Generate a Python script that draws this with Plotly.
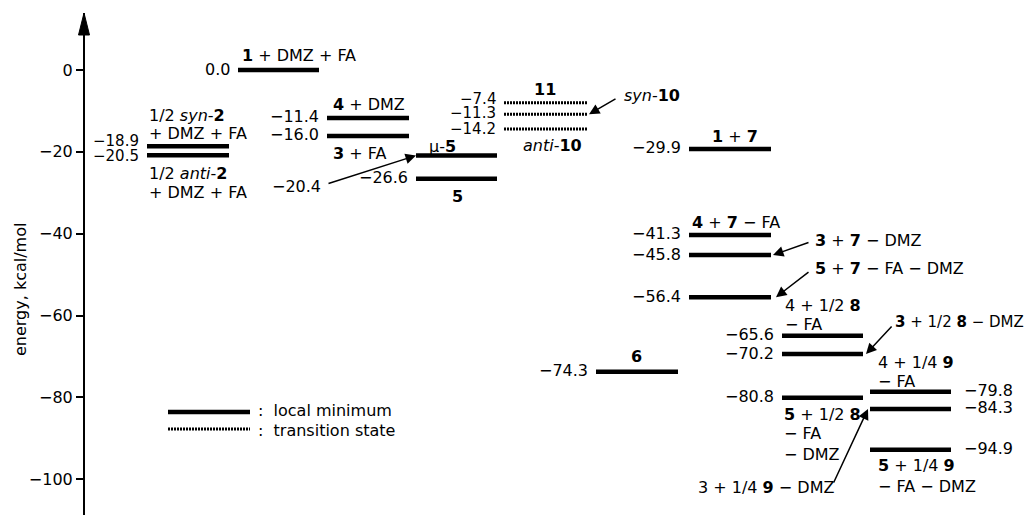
import plotly.graph_objects as go

# ---------------- data ----------------
level_names = ["syn-2", "anti-2", "1 + DMZ + FA", "4 + DMZ", "3 + FA", "mu-5", "5",
               "11", "syn-10", "anti-10",
               "1 + 7", "4 + 7 - FA", "3 + 7 - DMZ", "5 + 7 - FA - DMZ",
               "4 + 1/2 8 - FA", "3 + 1/2 8 - DMZ", "6", "5 + 1/2 8 - FA - DMZ",
               "4 + 1/4 9 - FA", "3 + 1/4 9 - DMZ", "5 + 1/4 9 - FA - DMZ"]
# energies as labelled (kcal/mol)
level_energy = [-18.9, -20.5, 0.0, -11.4, -16.0, -20.4, -26.6,
                -7.4, -11.3, -14.2,
                -29.9, -41.3, -45.8, -56.4,
                -65.6, -70.2, -74.3, -80.8,
                -79.8, -84.3, -94.9]
# heights at which the levels are drawn in the diagram
level_drawn = [-18.6, -20.8, 0.0, -11.7, -16.1, -20.9, -26.6,
               -8.0, -10.8, -14.4,
               -19.3, -40.3, -45.2, -55.5,
               -64.9, -69.4, -73.7, -80.1,
               -78.6, -82.8, -92.8]
level_kind = ["min"] * 7 + ["ts"] * 3 + ["min"] * 11

y_ticks = [0, -20, -40, -60, -80, -100]
y_tick_text = ["0", "−20", "−40", "−60", "−80", "−100"]

# ---------------- layout helpers ----------------
PAGE_W, PAGE_H = 1034, 515
BODY = 8           # default page margin around the figure
W, H = PAGE_W - BODY, PAGE_H - BODY
S = 4.093          # pixels per kcal/mol
Y0PX = 70          # pixel row of energy 0 (page coordinates)
TOP = 13           # arrow tip row (page coordinates)


def ey(py):
    """page pixel row -> energy coordinate"""
    return (Y0PX - py) / S


cols = [(147, 229), (238, 319), (327, 409), (416, 497), (504, 587),
        (596, 678), (689, 771), (782, 863), (870, 951)]
level_col = [0, 0, 1, 2, 2, 3, 3, 4, 4, 4, 6, 6, 6, 6, 7, 7, 5, 7, 8, 8, 8]
value_side = ["L"] * 21
value_side[5] = "arrow"
for i in (18, 19, 20):
    value_side[i] = "R"
# small vertical nudges (px) for crowded value labels
value_nudge = [0] * 21
value_nudge[0], value_nudge[1] = 4, -2
value_nudge[7], value_nudge[8], value_nudge[9] = 3, 0, -1
value_size = [16] * 21
for i in (0, 1, 7, 8, 9):
    value_size[i] = 15

FONT = "DejaVu Sans"
FS = 16
TS_LINE = dict(color="black", width=3, dash="2px,1px")
MIN_LINE = dict(color="black", width=4.5)

fig = go.Figure()

for i, name in enumerate(level_names):
    x0, x1 = cols[level_col[i]]
    line = MIN_LINE if level_kind[i] == "min" else TS_LINE
    fig.add_trace(go.Scatter(x=[x0, x1], y=[level_drawn[i]] * 2, mode="lines",
                             line=line, showlegend=False, hoverinfo="text",
                             text=name))

annotations = []


def fmt(v):
    return f"{v:.1f}".replace("-", "−")


for i, v in enumerate(level_energy):
    x0, x1 = cols[level_col[i]]
    f = dict(size=value_size[i])
    if value_side[i] == "L":
        annotations.append(dict(x=x0 - 6, y=level_drawn[i], text=fmt(v), xanchor="right",
                                yanchor="middle", showarrow=False,
                                yshift=1 + value_nudge[i], font=f))
    elif value_side[i] == "R":
        annotations.append(dict(x=x1 + 11, y=level_drawn[i], text=fmt(v), xanchor="left",
                                yanchor="middle", showarrow=False, yshift=1, font=f))
    else:
        annotations.append(dict(x=323, y=ey(186), text=fmt(v), xanchor="right",
                                yanchor="middle", showarrow=False, font=f))
        annotations.append(dict(x=x0, y=level_drawn[i], ax=327, ay=ey(184),
                                axref="x", ayref="y", text="", showarrow=True,
                                arrowhead=2, arrowsize=1.4, arrowwidth=1.5,
                                arrowcolor="black"))

# (text, x, page row, xanchor, font size)
name_labels = [
    ("1/2 <i>syn</i>-<b>2</b>", 147, 115, "left", FS),
    ("+ DMZ + FA", 147, 133, "left", FS),
    ("1/2 <i>anti</i>-<b>2</b>", 147, 173, "left", FS),
    ("+ DMZ + FA", 147, 192, "left", FS),
    ("<b>1</b> + DMZ + FA", 240, 55, "left", FS),
    ("<b>4</b> + DMZ", 331, 104, "left", FS),
    ("<b>3</b> + FA", 331, 153, "left", FS),
    ("μ-<b>5</b>", 427, 146, "left", FS),
    ("<b>5</b>", 457, 196, "center", FS),
    ("<b>11</b>", 545, 89, "center", FS),
    ("<i>anti</i>-<b>10</b>", 521, 145, "left", FS),
    ("<i>syn</i>-<b>10</b>", 622, 95, "left", FS),
    ("<b>1</b> + <b>7</b>", 710, 136, "left", FS),
    ("<b>4</b> + <b>7</b> − FA", 690, 222, "left", FS),
    ("<b>3</b> + <b>7</b> − DMZ", 813, 240, "left", FS),
    ("<b>5</b> + <b>7</b> − FA − DMZ", 813, 268, "left", FS),
    ("4 + 1/2 <b>8</b>", 783, 305, "left", FS),
    ("− FA", 783, 324, "left", FS),
    ("<b>3</b> + 1/2 <b>8</b> − DMZ", 893, 322, "left", 15),
    ("<b>6</b>", 636, 356, "center", FS),
    ("4 + 1/4 <b>9</b>", 876, 362, "left", FS),
    ("− FA", 876, 381, "left", FS),
    ("<b>5</b> + 1/2 <b>8</b>", 782, 414, "left", FS),
    ("− FA", 782, 433, "left", FS),
    ("− DMZ", 782, 454, "left", FS),
    ("3 + 1/4 <b>9</b> − DMZ", 696, 487, "left", FS),
    ("<b>5</b> + 1/4 <b>9</b>", 876, 465, "left", FS),
    ("− FA − DMZ", 876, 486, "left", FS),
]
for text, x, py, xa, size in name_labels:
    annotations.append(dict(x=x, y=ey(py), text=text, xanchor=xa, yanchor="middle",
                            showarrow=False, font=dict(size=size)))

# pointer arrows: (tail x, tail row, level index, head x)
pointers = [(617, 98, 8, 589), (810, 242, 12, 773), (810, 271, 13, 776),
            (893, 325, 15, 866), (833, 484, 19, 868)]
for tx, ty, li, hx in pointers:
    annotations.append(dict(x=hx, y=level_drawn[li], ax=tx, ay=ey(ty), axref="x", ayref="y",
                            text="", showarrow=True, arrowhead=2, arrowsize=1.4,
                            arrowwidth=1.5, arrowcolor="black"))

# legend
fig.add_trace(go.Scatter(x=[168, 250], y=[ey(412)] * 2, mode="lines",
                         line=MIN_LINE, showlegend=False, hoverinfo="skip"))
fig.add_trace(go.Scatter(x=[168, 250], y=[ey(429)] * 2, mode="lines",
                         line=TS_LINE, showlegend=False, hoverinfo="skip"))
annotations.append(dict(x=256, y=ey(410), text=":  local minimum", xanchor="left",
                        yanchor="middle", showarrow=False))
annotations.append(dict(x=256, y=ey(430), text=":  transition state", xanchor="left",
                        yanchor="middle", showarrow=False))

# axis title
annotations.append(dict(x=20, y=ey(290), text="energy, kcal/mol", textangle=-90,
                        xanchor="center", yanchor="middle", showarrow=False,
                        font=dict(size=16)))

fig.update_layout(
    width=W, height=H,
    margin=dict(l=0, r=0, t=TOP - BODY, b=0, pad=0),
    paper_bgcolor="white", plot_bgcolor="white",
    font=dict(family=FONT, size=FS, color="black"),
    annotations=annotations,
    showlegend=False,
    xaxis=dict(range=[BODY, PAGE_W], visible=False, fixedrange=True),
    yaxis=dict(range=[ey(PAGE_H), ey(TOP)], anchor="free", position=(84 - BODY) / W,
               side="left",
               showline=True, linecolor="black", linewidth=2,
               ticks="outside", ticklen=7, tickwidth=2, tickcolor="black",
               tickvals=y_ticks, ticktext=y_tick_text,
               tickfont=dict(family=FONT, size=16, color="black"),
               showgrid=False, zeroline=False, automargin=False, fixedrange=True),
    shapes=[dict(type="path", xref="x", yref="paper", xsizemode="pixel", ysizemode="pixel",
                 xanchor=84, yanchor=1, path="M -5.5,-22 L 5.5,-22 L 0,0 Z",
                 fillcolor="black", line=dict(color="black", width=1))],
)

fig.write_html("out.html")
